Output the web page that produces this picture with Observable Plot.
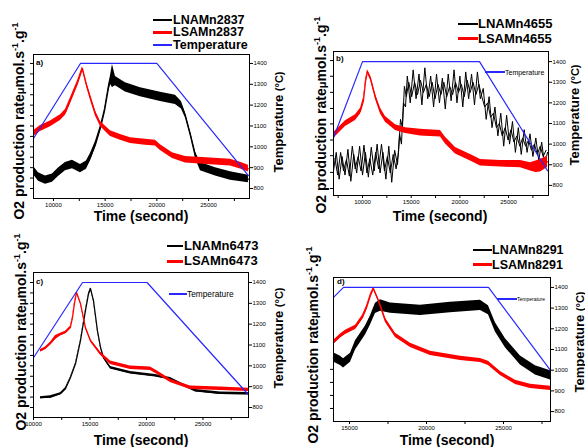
<!DOCTYPE html>
<html><head><meta charset="utf-8">
<script src="https://cdn.jsdelivr.net/npm/d3@7"></script>
<script src="https://cdn.jsdelivr.net/npm/@observablehq/plot@0.6"></script>
<style>
body{margin:0;background:#fff;}
#root{position:relative;width:585px;height:447px;overflow:hidden;font-family:"Liberation Sans",Arial,Helvetica,sans-serif;color:#000;}
.abs{position:absolute;white-space:nowrap;line-height:1;}
#root svg{position:absolute;left:0;top:0;}
sup{font-size:9px;line-height:0;vertical-align:6px;}
</style></head><body><div id="root"></div>
<script>
// The left (O2 rate) axes are unlabelled, so rates are recorded in the units of the
// right-hand temperature axis. Rows: [time (s), value, noise half-width]
const a_temp = [[8070,1040],[12611,1400],[20000,1400],[28857,862]];
const a_black = [[8070,886,20],[8554,855,20],[9231,840,20],[9903,850,20],[10484,878,20],[11160,905,20],[11837,915,20],[12611,895,20],[13190,912,20],[13578,950,18],[14061,1010,15],[14545,1090,12],[14932,1170,12],[15319,1280,15],[15512,1320,20],[15706,1340,55],[15996,1315,22],[16963,1285,22],[18413,1262,22],[20347,1240,22],[21797,1225,22],[22377,1200,18],[22764,1150,12],[23248,1060,12],[23731,960,15],[24215,905,20],[25666,880,20],[27116,860,20],[28857,845,18]];
const a_red = [[8070,1063,14],[8743,1088,14],[9710,1110,14],[10677,1140,14],[11160,1165,14],[11644,1222,14],[12320,1304,12],[12804,1376,8],[13190,1300,10],[13578,1236,12],[14061,1160,12],[14545,1110,12],[15512,1063,14],[16479,1045,14],[17446,1030,14],[18896,1022,14],[19863,1018,14],[20347,996,14],[21507,958,14],[22764,938,16],[25182,930,16],[27116,924,16],[28083,910,16],[28857,895,16]];

const b_temp = [[7020,1031],[10000,1400],[22012,1400],[29000,871]];
// strongly spiky trace, read as two interleaved sets of spikes: [time, value]
const b_black = [[7020,870],[7300,960],[7600,830],[7900,940],[8200,850],[8500,975],[8800,820],[9100,950],[9400,860],[9700,990],[10000,850],[10300,960],[10600,840],[10900,985],[11200,870],[11500,1000],[11800,860],[12100,960],[12400,830],[12700,990],[13000,815],[13300,970],[13593,900],[13800,1050],[14000,1000],[14200,1200],[14414,1180],[14600,1330],[14900,1200],[15200,1360],[15500,1220],[15800,1340],[16100,1190],[16400,1370],[16700,1220],[17000,1330],[17300,1180],[17600,1340],[17900,1200],[18200,1320],[18500,1170],[18800,1340],[19100,1210],[19400,1360],[19700,1200],[20000,1330],[20300,1180],[20600,1350],[20900,1220],[21200,1340],[21500,1190],[21800,1350],[22100,1220],[22400,1270],[22700,1120],[23000,1230],[23300,1080],[23600,1180],[23900,1040],[24200,1150],[24500,990],[24800,1140],[25100,1000],[25400,1110],[25700,960],[26000,1080],[26300,950],[26600,1070],[26900,960],[27200,1050],[27500,940],[27800,1030],[28100,920],[28400,1010],[28700,900],[29000,960]];
const b_black2 = [[7170,930],[7450,850],[7750,960],[8050,870],[8350,925],[8650,845],[8950,990],[9250,880],[9550,940],[9850,870],[10150,995],[10450,860],[10750,930],[11050,850],[11350,960],[11650,880],[11950,1000],[12250,870],[12550,940],[12850,860],[13150,950],[13450,880],[13700,960],[13900,1120],[14100,1080],[14300,1280],[14500,1230],[14750,1300],[15050,1230],[15350,1300],[15650,1240],[15950,1310],[16250,1250],[16550,1290],[16850,1230],[17150,1300],[17450,1220],[17750,1290],[18050,1240],[18350,1300],[18650,1230],[18950,1280],[19250,1240],[19550,1300],[19850,1250],[20150,1290],[20450,1230],[20750,1310],[21050,1250],[21350,1300],[21650,1240],[21950,1290],[22250,1230],[22550,1180],[22850,1200],[23150,1130],[23450,1150],[23750,1080],[24050,1100],[24350,1040],[24650,1080],[24950,1020],[25250,1070],[25550,1010],[25850,1040],[26150,990],[26450,1030],[26750,990],[27050,1020],[27350,970],[27650,1000],[27950,950],[28250,990],[28550,940],[28850,970]];
const b_red = [[7020,1041,14],[7739,1075,14],[8252,1099,14],[9279,1128,14],[9793,1160,14],[10101,1211,14],[10306,1300,12],[10512,1352,8],[10820,1320,10],[11333,1228,12],[11847,1160,14],[12360,1120,14],[13387,1080,14],[14414,1065,14],[15955,1056,16],[18009,1050,16],[18522,1017,16],[19549,968,16],[21090,934,16],[22117,910,16],[24171,905,16],[26225,903,18],[27252,890,20],[27800,890,28],[28280,895,30],[29000,915,28]];

const c_temp = [[10000,1039],[14340,1400],[20050,1400],[28950,866]];
const c_black = [[10620,847,5],[11500,850,6],[12390,866,5],[12830,890,5],[13270,943,4],[13720,1010,4],[14160,1121,4],[14600,1265,4],[14870,1345,4],[15050,1371,4],[15310,1313,4],[15660,1169,4],[15930,1090,4],[16200,1039,5],[16810,991,6],[18580,967,6],[20800,953,6],[22120,938,6],[23010,914,6],[24340,881,6],[26550,868,6],[29030,866,6]];
const c_red = [[10620,1073,6],[11060,1085,6],[11500,1107,6],[11950,1136,10],[12390,1150,6],[12830,1160,6],[13270,1184,6],[13450,1230,6],[13630,1300,5],[13810,1352,4],[14160,1300,5],[14600,1184,6],[15050,1121,6],[15930,1059,8],[16810,1015,8],[18580,991,8],[20350,986,8],[20970,967,8],[22120,928,8],[23890,895,8],[26550,890,8],[29030,885,8]];

const d_temp = [[13960,1352],[14610,1400],[24026,1400],[28050,999]];
const d_black = [[13960,1062,22],[14414,1045,22],[14610,1033,22],[15063,1060,22],[15388,1120,22],[16037,1192,22],[16361,1241,22],[16686,1299,25],[17010,1313,28],[17659,1300,25],[19606,1289,25],[21553,1303,25],[23500,1313,25],[24020,1290,22],[24474,1207,22],[25123,1130,22],[26097,1047,22],[27070,999,22],[28050,975,22]];
const d_red = [[13960,1134,10],[14414,1165,10],[14740,1183,10],[15388,1207,10],[15842,1255,10],[16102,1300,10],[16361,1361,8],[16556,1395,6],[16881,1337,8],[17335,1241,10],[17984,1168,10],[18957,1120,10],[20255,1081,10],[22202,1057,10],[23500,1047,10],[24020,1033,10],[24798,984,10],[25772,941,10],[26745,922,10],[28050,912,10]];

// ticks
const tempTicks = [800,900,1000,1100,1200,1300,1400];
const xMajor = [10000,15000,20000,25000];
const xMinor = [7500,12500,17500,22500,27500];
const dMajor = [15000,20000,25000];
const leftTicksA = [800,850,900,950,1000,1050,1100,1150,1200,1250,1300,1350,1400];
const leftTicksB = [785,863,944,1020,1098,1173,1251,1329,1405];
const leftTicksD = [815,878,941,1004];

// legend / label texts
const namesA = ["LNAMn2837","LSAMn2837"];
const namesB = ["LNAMn4655","LSAMn4655"];
const namesC = ["LNAMn6473","LSAMn6473"];
const namesD = ["LNAMn8291","LSAMn8291"];
const tempName = "Temperature";
const xTitle = "Time (second)";

const BLUE = "#2828ff", RED = "#ff0000";
const root = document.getElementById("root");

function band(rows){ return rows.map(([t,v,n]) => ({t, v, lo: v - n, hi: v + n})); }

function panel(cfg){
  const [x0,y0,x1,y1] = cfg.frame;
  const marks = [];
  if (cfg.spiky){
    for (const rows of cfg.spiky) marks.push(Plot.line(rows, {x: d=>d[0], y: d=>d[1], stroke: "#000", strokeWidth: 1}));
  } else {
    const b = band(cfg.black);
    marks.push(Plot.areaY(b, {x:"t", y1:"lo", y2:"hi", fill: "#000"}));
    marks.push(Plot.line(b, {x:"t", y:"v", stroke: "#000", strokeWidth: 1.2}));
  }
  const r = band(cfg.red);
  marks.push(Plot.areaY(r, {x:"t", y1:"lo", y2:"hi", fill: RED}));
  marks.push(Plot.line(r, {x:"t", y:"v", stroke: RED, strokeWidth: 1.2}));
  marks.push(Plot.line(cfg.temp, {x: d=>d[0], y: d=>d[1], stroke: BLUE, strokeWidth: 1.2}));
  marks.push(Plot.frame({stroke:"#000", strokeWidth: 1}));
  marks.push(Plot.axisX({ticks: cfg.major, tickSize: 3, tickPadding: 1, tickFormat: d => String(d), label: null}));
  marks.push(Plot.axisX({ticks: cfg.minor, tickSize: 3, tickFormat: () => "", label: null}));
  marks.push(Plot.axisY({anchor:"left", ticks: cfg.left, tickSize: 3, tickFormat: () => "", label: null}));
  marks.push(Plot.axisY({anchor:"right", ticks: tempTicks, tickSize: 3, tickPadding: 1, tickFormat: d => String(d), label: null}));
  const svg = Plot.plot({
    width: 585, height: 447,
    marginLeft: x0, marginRight: 585 - x1, marginTop: y0, marginBottom: 447 - y1,
    style: {background: "transparent", fontSize: "6px", fontFamily: '"Liberation Sans", Arial, sans-serif', overflow: "visible"},
    x: {domain: cfg.xdom},
    y: {domain: cfg.ydom},
    marks
  });
  root.appendChild(svg);
}

panel({frame:[33,54,249,198], xdom:[8070,28960], ydom:[752,1443], temp:a_temp, black:a_black, red:a_red, major:xMajor, minor:xMinor.filter(v=>v>8070), left:leftTicksA});
panel({frame:[333,51,548,195], xdom:[7020,29100], ydom:[751,1449], temp:b_temp, spiky:[b_black, b_black2], red:b_red, major:xMajor, minor:xMinor, left:leftTicksB});
panel({frame:[33,272,248,417], xdom:[10000,29030], ydom:[752,1448], temp:c_temp, black:c_black, red:c_red, major:xMajor, minor:xMinor.filter(v=>v>10000), left:leftTicksA});
panel({frame:[333,277,550,421], xdom:[13960,28050], ydom:[752,1448], temp:d_temp, black:d_black, red:d_red, major:dMajor, minor:xMinor.filter(v=>v>13960), left:leftTicksD});

function div(html, css){
  const e = document.createElement("div");
  e.className = "abs"; e.innerHTML = html;
  Object.assign(e.style, css);
  root.appendChild(e);
  return e;
}
function text(html, x, y, size, weight, lh){
  return div(html, {left: x+"px", top: y+"px", transform: "translateY(-50%)", fontSize: size+"px", fontWeight: weight || "normal", lineHeight: lh || "1"});
}
function rot(html, cx, cy, size){
  return div(html, {left: cx+"px", top: cy+"px", transform: "translate(-50%,-50%) rotate(-90deg)", fontSize: size+"px", fontWeight: "bold"});
}
function hline(x0, x1, y, th, col){
  div("", {left: x0+"px", top: (y - th/2)+"px", width: (x1-x0)+"px", height: th+"px", background: col});
}
function legendRow(name, col, lx0, lx1, tx, y, size, th){
  hline(lx0, lx1, y, th, col);
  text(name, tx, y, size, "bold", "0.8");
}

const yTitle = 'O2 production rate<span style="font-size:11px">μ</span>mol.s<sup>-1</sup>.g<sup>-1</sup>';
const tTitle = 'Temperature <span style="font-size:11px">(°C)</span>';

// panel a
legendRow(namesA[0], "#000", 153, 172, 173, 19.5, 12.5, 2);
legendRow(namesA[1], RED, 153, 172, 173, 32, 12.5, 3);
legendRow(tempName, BLUE, 153, 172, 173, 44.5, 12.5, 2);
text("a)", 36, 63, 8, "bold");
rot(yTitle, 19, 121, 14);
rot(tTitle, 278, 122, 13);
div(xTitle, {left:"141px", top:"216px", transform:"translate(-50%,-50%)", fontSize:"14px", fontWeight:"bold"});

// panel b
legendRow(namesB[0], "#000", 458, 478, 478, 24, 13, 2);
legendRow(namesB[1], RED, 458, 478, 478, 38.5, 13, 3);
hline(485, 505, 72, 1.5, BLUE);
text(tempName, 505, 72, 7, "normal");
text("b)", 336, 59, 8, "bold");
rot(yTitle, 321, 115, 14);
rot(tTitle, 574, 115, 13);
div(xTitle, {left:"440px", top:"216px", transform:"translate(-50%,-50%)", fontSize:"14px", fontWeight:"bold"});

// panel c
legendRow(namesC[0], "#000", 167, 183, 184, 245.5, 13, 2);
legendRow(namesC[1], RED, 167, 183, 184, 261, 13, 3);
hline(169, 187, 294, 1.5, BLUE);
text(tempName, 187, 294, 8.3, "normal");
text("c)", 36, 282, 8, "bold");
rot(yTitle, 21, 332, 14);
rot(tTitle, 278, 338, 13);
div(xTitle, {left:"141px", top:"440px", transform:"translate(-50%,-50%)", fontSize:"14px", fontWeight:"bold"});

// panel d
legendRow(namesD[0], "#000", 473, 492, 492, 250, 12.5, 2);
legendRow(namesD[1], RED, 473, 492, 492, 264.5, 12.5, 3);
hline(497, 517, 299, 1.5, BLUE);
text(tempName, 517, 299, 5, "normal");
text("d)", 337, 282, 8, "bold");
rot(yTitle, 313, 345, 14);
rot(tTitle, 579, 342, 13);
div(xTitle, {left:"447px", top:"440px", transform:"translate(-50%,-50%)", fontSize:"14px", fontWeight:"bold"});
</script>
</body></html>
